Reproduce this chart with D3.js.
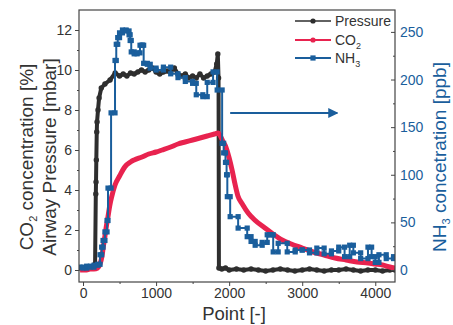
<!DOCTYPE html>
<html>
<head>
<meta charset="utf-8">
<script src="https://cdn.jsdelivr.net/npm/d3@7"></script>
<style>
  body { margin: 0; background: #fff; }
  svg { display: block; font-family: "Liberation Sans", Arial, sans-serif; }
</style>
</head>
<body>
<svg id="chart" width="453" height="325"></svg>
<script>
// ---- data ----
const pressureX = [-40, 0, 50, 100, 150, 165, 175, 178, 182, 188, 192, 205, 220, 250, 300, 370, 440, 500, 550, 600, 650, 700, 750, 800, 850, 900, 950, 1000, 1050, 1100, 1150, 1200, 1250, 1300, 1350, 1400, 1450, 1500, 1550, 1600, 1650, 1700, 1750, 1800, 1830, 1845, 1855, 1860, 1900, 1950, 2000, 2100, 2200, 2300, 2400, 2500, 2600, 2700, 2800, 2900, 3000, 3100, 3200, 3300, 3400, 3500, 3600, 3700, 3800, 3900, 4000, 4100, 4200, 4270];
const pressureY = [0.1, 0.05, 0.1, 0.15, 0.2, 0.3, 3.8, 4.4, 5.5, 6.9, 7.4, 8.0, 8.6, 9.1, 9.3, 9.5, 9.85, 9.7, 9.8, 9.7, 9.85, 9.8, 9.9, 10.0, 9.9, 10.0, 10.1, 9.9, 9.8, 9.9, 9.95, 9.9, 10.1, 9.8, 9.7, 9.8, 9.6, 9.7, 9.6, 9.8, 9.6, 9.7, 9.8, 9.9, 10.3, 10.8, 9.6, 0.1, 0.05, 0.1, 0.0, 0.05, 0.0, 0.05, 0.0, -0.05, 0.0, 0.05, 0.0, -0.05, 0.0, 0.05, 0.0, -0.05, 0.0, 0.0, 0.05, 0.0, -0.05, 0.0, 0.0, -0.05, 0.0, 0.0];

const co2X = [-40, 0, 50, 100, 150, 200, 233, 260, 278, 300, 320, 342, 365, 393, 438, 500, 575, 650, 700, 808, 900, 1000, 1082, 1200, 1300, 1397, 1500, 1600, 1700, 1800, 1850, 1880, 1920, 1950, 2000, 2040, 2080, 2120, 2180, 2260, 2350, 2490, 2600, 2725, 2850, 3000, 3150, 3300, 3450, 3600, 3750, 3900, 4000, 4100, 4200, 4270];
const co2Y = [0.0, 0.0, 0.0, 0.05, 0.05, 0.1, 0.3, 0.7, 1.17, 1.7, 2.2, 2.67, 3.2, 3.67, 4.25, 4.7, 5.17, 5.4, 5.5, 5.65, 5.8, 5.9, 6.0, 6.15, 6.3, 6.4, 6.5, 6.6, 6.7, 6.8, 6.85, 6.7, 6.4, 6.2, 5.6, 5.0, 4.3, 3.7, 3.3, 2.85, 2.5, 2.1, 1.8, 1.5, 1.3, 1.1, 0.9, 0.75, 0.6, 0.5, 0.4, 0.35, 0.3, 0.25, 0.15, 0.1];

const nh3X = [-40, 0, 50, 100, 150, 200, 233, 255, 274, 300, 329, 342, 384, 438, 455, 475, 500, 540, 590, 630, 645, 660, 700, 740, 780, 810, 830, 880, 920, 1000, 1100, 1200, 1300, 1400, 1500, 1550, 1640, 1700, 1780, 1836, 1904, 1925, 1950, 1965, 1975, 2014, 2123, 2247, 2300, 2356, 2452, 2521, 2560, 2603, 2671, 2795, 2904, 3000, 3100, 3200, 3300, 3400, 3500, 3580, 3650, 3700, 3800, 3900, 3950, 4000, 4050, 4150, 4250];
const nh3Y = [3, 2, 4, 3, 5, 6, 16, 24, 31, 40, 52, 86, 165, 220, 237, 244, 249, 252, 251, 247, 241, 229, 227, 228, 236, 236, 217, 216, 212, 210, 213, 206, 202, 198, 196, 184, 182, 197, 208, 189, 133, 123, 113, 100, 77, 56, 44, 35, 30, 26, 29, 37, 37, 19, 28, 19, 21, 21, 18, 23, 17, 20, 24, 14, 26, 18, 12, 24, 14, 8, 16, 12, 14];

const xTicks = [0, 1000, 2000, 3000, 4000];
const yLeftTicks = [0, 2, 4, 6, 8, 10, 12];
const yRightTicks = [0, 50, 100, 150, 200, 250];

const series = [
  { name: 'Pressure', sub: '', color: '#2e2e2e', shape: 'circle' },
  { name: 'CO', sub: '2', color: '#e8234f', shape: 'circle' },
  { name: 'NH', sub: '3', color: '#1a5e9c', shape: 'square' }
];

// ---- layout ----
const svg = d3.select('#chart');
const m = { left: 79, right: 395, top: 10, bottom: 282 };

const x = d3.scaleLinear().domain([-55, 4270]).range([m.left, m.right]);
const yL = d3.scaleLinear().domain([-0.6, 13]).range([m.bottom, m.top]);
const yR = d3.scaleLinear().domain([-12.6, 273]).range([m.bottom, m.top]);

const axisColor = '#444';
const textColor = '#333';

// clip for data
svg.append('clipPath').attr('id', 'clip')
  .append('rect').attr('x', m.left).attr('y', m.top).attr('width', m.right - m.left).attr('height', m.bottom - m.top);

const plot = svg.append('g').attr('clip-path', 'url(#clip)');

// pressure
const pData = pressureX.map((d, i) => [d, pressureY[i]]);
plot.append('path')
  .datum(pData)
  .attr('fill', 'none')
  .attr('stroke', series[0].color)
  .attr('stroke-width', 4)
  .attr('stroke-linejoin', 'round')
  .attr('d', d3.line().x(d => x(d[0])).y(d => yL(d[1])));
plot.append('g').selectAll('circle')
  .data(pData).enter().append('circle')
  .attr('cx', d => x(d[0])).attr('cy', d => yL(d[1])).attr('r', 2.7)
  .attr('fill', series[0].color);

// CO2
const cData = co2X.map((d, i) => [d, co2Y[i]]);
plot.append('path')
  .datum(cData)
  .attr('fill', 'none')
  .attr('stroke', series[1].color)
  .attr('stroke-width', 5)
  .attr('stroke-linejoin', 'round')
  .attr('d', d3.line().curve(d3.curveMonotoneX).x(d => x(d[0])).y(d => yL(d[1])));

// NH3 (stair steps)
const nData = nh3X.map((d, i) => [d, nh3Y[i]]);
plot.append('path')
  .datum(nData)
  .attr('fill', 'none')
  .attr('stroke', series[2].color)
  .attr('stroke-width', 2)
  .attr('d', d3.line().curve(d3.curveStepAfter).x(d => x(d[0])).y(d => yR(d[1])));
// markers at each sample and at the end of each held step
const nMarks = [];
nData.forEach((d, i) => {
  nMarks.push(d);
  if (i < nData.length - 1) nMarks.push([nData[i + 1][0], d[1]]);
});
plot.append('g').selectAll('rect')
  .data(nMarks).enter().append('rect')
  .attr('x', d => x(d[0]) - 2.6).attr('y', d => yR(d[1]) - 2.6)
  .attr('width', 5.2).attr('height', 5.2)
  .attr('fill', series[2].color);

// arrow pointing to the right axis
const arrowFrom = [2014, 7.85], arrowTo = [3480, 7.85];
svg.append('defs').append('marker')
  .attr('id', 'arrow').attr('viewBox', '0 0 10 10').attr('refX', 9).attr('refY', 5)
  .attr('markerWidth', 5).attr('markerHeight', 5).attr('orient', 'auto')
  .append('path').attr('d', 'M0,0 L10,5 L0,10 z').attr('fill', series[2].color);
svg.append('line')
  .attr('x1', x(arrowFrom[0])).attr('y1', yL(arrowFrom[1]))
  .attr('x2', x(arrowTo[0])).attr('y2', yL(arrowTo[1]))
  .attr('stroke', series[2].color).attr('stroke-width', 2)
  .attr('marker-end', 'url(#arrow)');

// frame
svg.append('rect')
  .attr('x', m.left).attr('y', m.top).attr('width', m.right - m.left).attr('height', m.bottom - m.top)
  .attr('fill', 'none').attr('stroke', axisColor).attr('stroke-width', 1.2);

// axes
function styleAxis(g, color) {
  g.select('.domain').remove();
  g.selectAll('line').attr('stroke', axisColor);
  g.selectAll('text').attr('font-size', 14).attr('fill', color)
    .attr('font-family', '"Liberation Sans", Arial, sans-serif');
}

svg.append('g').attr('transform', `translate(0,${m.bottom})`)
  .call(d3.axisBottom(x).tickValues(xTicks).tickFormat(d3.format('d')).tickSize(4).tickPadding(2))
  .call(g => styleAxis(g, textColor));
svg.append('g').attr('transform', `translate(0,${m.bottom})`)
  .call(d3.axisBottom(x).tickValues([500, 1500, 2500, 3500]).tickSize(2).tickFormat(''))
  .call(g => styleAxis(g, textColor));

svg.append('g').attr('transform', `translate(${m.left},0)`)
  .call(d3.axisLeft(yL).tickValues(yLeftTicks).tickSize(4).tickPadding(3))
  .call(g => styleAxis(g, textColor));
svg.append('g').attr('transform', `translate(${m.left},0)`)
  .call(d3.axisLeft(yL).tickValues([1, 3, 5, 7, 9, 11]).tickSize(2).tickFormat(''))
  .call(g => styleAxis(g, textColor));

svg.append('g').attr('transform', `translate(${m.right},0)`)
  .call(d3.axisRight(yR).tickValues(yRightTicks).tickSize(-4).tickPadding(5))
  .call(g => styleAxis(g, series[2].color));
svg.append('g').attr('transform', `translate(${m.right},0)`)
  .call(d3.axisRight(yR).tickValues([25, 75, 125, 175, 225]).tickSize(-2).tickFormat(''))
  .call(g => styleAxis(g, series[2].color));

// axis titles
function titleWithSub(g, parts, color) {
  const t = g.append('text').attr('fill', color).attr('font-size', 19).attr('text-anchor', 'middle');
  parts.forEach(p => {
    if (p.sub) {
      t.append('tspan').attr('font-size', 11).attr('dy', 4).text(p.t);
    } else {
      t.append('tspan').attr('dy', p.reset ? -4 : 0).text(p.t);
    }
  });
  return t;
}

svg.append('text')
  .attr('x', 234).attr('y', 320)
  .attr('text-anchor', 'middle').attr('font-size', 18.5).attr('fill', textColor)
  .text('Point [-]');

const lt1 = svg.append('g').attr('transform', 'translate(33,157) rotate(-90)');
titleWithSub(lt1, [{ t: 'CO' }, { t: '2', sub: true }, { t: ' concentration [%]', reset: true }], textColor);
svg.append('text')
  .attr('transform', 'translate(56,157) rotate(-90)')
  .attr('text-anchor', 'middle').attr('font-size', 19).attr('fill', textColor)
  .text('Airway Pressure [mbar]');

const rt = svg.append('g').attr('transform', 'translate(446,157) rotate(-90)');
titleWithSub(rt, [{ t: 'NH' }, { t: '3', sub: true }, { t: ' concetration [ppb]', reset: true }], series[2].color);

// legend
const legend = svg.append('g');
const rowsY = [21, 40, 58];
series.forEach((s, i) => {
  const gy = rowsY[i];
  const row = legend.append('g').attr('transform', `translate(0,${gy})`);
  row.append('line').attr('x1', 295).attr('x2', 331).attr('y1', 0).attr('y2', 0)
    .attr('stroke', s.color).attr('stroke-width', i === 0 ? 1.5 : 2);
  if (s.shape === 'circle') {
    row.append('circle').attr('cx', 313).attr('cy', 0).attr('r', 2.6).attr('fill', s.color);
  } else {
    row.append('rect').attr('x', 310.4).attr('y', -2.6).attr('width', 5.2).attr('height', 5.2).attr('fill', s.color);
  }
  const t = row.append('text').attr('x', 335).attr('y', 5).attr('font-size', 14).attr('fill', textColor);
  t.append('tspan').text(s.name);
  if (s.sub) t.append('tspan').attr('font-size', 9).attr('dy', 4).text(s.sub);
});
</script>
</body>
</html>
